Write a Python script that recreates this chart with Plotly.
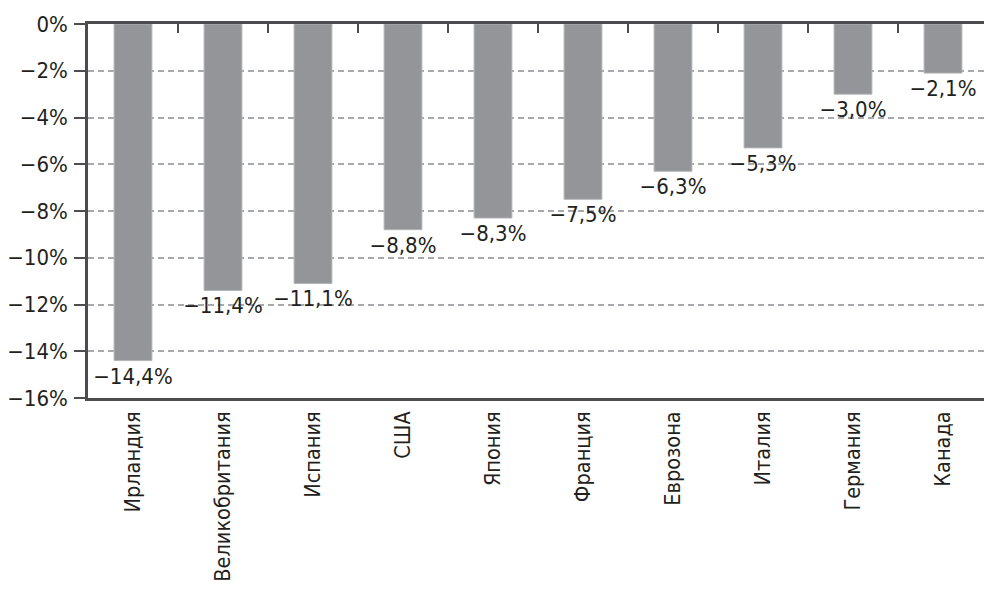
import plotly.graph_objects as go

countries = ["Ирландия", "Великобритания", "Испания", "США", "Япония",
             "Франция", "Еврозона", "Италия", "Германия", "Канада"]
values = [-14.4, -11.4, -11.1, -8.8, -8.3, -7.5, -6.3, -5.3, -3.0, -2.1]
value_labels = ["−14,4%", "−11,4%", "−11,1%", "−8,8%", "−8,3%",
                "−7,5%", "−6,3%", "−5,3%", "−3,0%", "−2,1%"]
y_ticks = [0, -2, -4, -6, -8, -10, -12, -14, -16]
y_tick_labels = ["0%", "−2%", "−4%", "−6%", "−8%", "−10%", "−12%", "−14%", "−16%"]

FONT = "DejaVu Sans Condensed, Liberation Sans Narrow, sans-serif"
TXT = "#231f20"
AX = "#4d4d4f"

x_idx = list(range(len(countries)))

fig = go.Figure()
fig.add_trace(go.Bar(
    x=x_idx, y=values, width=0.42,
    marker=dict(color="#939598", line=dict(color="#b3b4b6", width=1)),
    text=value_labels, textposition="outside", cliponaxis=False,
    constraintext="none",
    textfont=dict(family=FONT, size=22, color=TXT),
    hoverinfo="skip",
))
# invisible trace for top axis
fig.add_trace(go.Scatter(x=[0], y=[0], xaxis="x2", mode="markers",
                         marker=dict(opacity=0), hoverinfo="skip", showlegend=False))

xr = [-0.5, 9.5 - 4 / 90]
fig.update_layout(
    width=984, height=596,
    margin=dict(l=88, r=0, t=24, b=198),
    paper_bgcolor="white", plot_bgcolor="white",
    showlegend=False,
    font=dict(family=FONT, color=TXT),
    xaxis=dict(
        range=xr, tickvals=x_idx, ticktext=countries, tickangle=-90,
        tickfont=dict(family=FONT, size=21.5, color=TXT),
        showline=True, linecolor=AX, linewidth=2.5, ticks="",
        showgrid=False, zeroline=False, ticklabelstandoff=2,
        automargin=False,
    ),
    xaxis2=dict(
        range=xr, overlaying="x", side="top",
        tickvals=[i + 0.5 for i in range(9)], showticklabels=False,
        ticks="inside", ticklen=9, tickwidth=2, tickcolor=AX,
        showline=True, linecolor=AX, linewidth=2.5,
        showgrid=False, zeroline=False, automargin=False,
    ),
    yaxis=dict(
        range=[-16, 0], tickvals=y_ticks, ticktext=y_tick_labels,
        tickfont=dict(family=FONT, size=22, color=TXT),
        showline=True, linecolor=AX, linewidth=2.5,
        ticks="outside", ticklen=11, tickwidth=2, tickcolor=AX,
        showgrid=True, gridcolor="#a7a9ac", gridwidth=1.5, griddash="6px,4px",
        zeroline=False, ticklabelstandoff=2, automargin=False,
    ),
)

fig.write_html("out.html", config={"displayModeBar": False},
               post_script="document.body.style.margin='0';")
